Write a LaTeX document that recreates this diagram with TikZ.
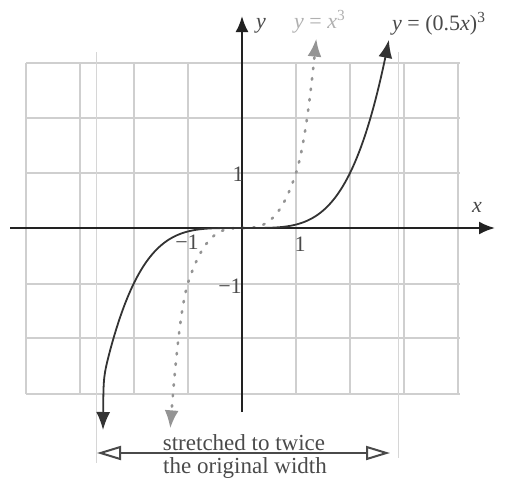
\documentclass[tikz,border=0pt]{standalone}
\usepackage{fontspec}
\setmainfont{Liberation Serif}
\usetikzlibrary{arrows.meta}
\definecolor{axiscol}{HTML}{222222}
\definecolor{curvecol}{HTML}{333333}
\definecolor{gridcol}{HTML}{CFCFCF}
\definecolor{stretchcol}{HTML}{D6D6D6}
\definecolor{dotcol}{HTML}{949494}
\definecolor{lightlab}{HTML}{B0B0B0}
\definecolor{textcol}{HTML}{4A4A4A}
\tikzset{
  gridline/.style={draw=gridcol, line width=1.2pt},
  stretchline/.style={draw=stretchcol, line width=1pt},
  axisline/.style={draw=axiscol, line width=2.2pt, -{Latex[length=16pt,width=13pt]}},
  blackcurve/.style={draw=curvecol, line width=1.8pt, {Latex[length=18pt,width=14pt]}-{Latex[length=18pt,width=14pt]}},
  dotcurve/.style={draw=dotcol, line width=2.6pt, line cap=round, dash pattern=on 1.5pt off 9pt, {Latex[length=18pt,width=14pt]}-{Latex[length=18pt,width=14pt]}},
  widtharrow/.style={draw=textcol, line width=2pt, {Triangle[open,length=24pt,width=14pt]}-{Triangle[open,length=24pt,width=14pt]}},
  lab/.style={font=\fontsize{22}{22}\selectfont, inner sep=0pt, text=textcol},
  bigtext/.style={font=\fontsize{23}{23}\selectfont, inner sep=0pt, text=textcol, anchor=base},
}
\begin{document}
\begin{tikzpicture}[x=1pt,y=-1pt]
\useasboundingbox (0,0) rectangle (508,477);
% grid
\foreach \gx in {26,80,134,188,296,350,404,458} {\draw[gridline] (\gx,63) -- (\gx,394);}
\foreach \gy in {63,118,173,284,338,394} {\draw[gridline] (26,\gy) -- (460,\gy);}
% stretch markers
\coordinate (sLtop) at (96,52);
\coordinate (sLbot) at (96,463);
\coordinate (sRtop) at (398,52);
\coordinate (sRbot) at (398,458);
\draw[stretchline] (sLtop) -- (sLbot);
\draw[stretchline] (sRtop) -- (sRbot);
% axes
\coordinate (xs) at (10,228);
\coordinate (xe) at (495,228);
\coordinate (ys) at (242,412);
\coordinate (ye) at (242,16);
\draw[axisline] (xs) -- (xe);
\draw[axisline] (ys) -- (ye);
% dotted y = x^3
\draw[dotcurve] plot[domain=1.375:-1.33, samples=120, variable=\u]
  ({242+54*\u},{228-55*(\u*\u*\u + (\u>1)*6*(\u-1)*(\u-1) - (\u<-1)*12*(\u+1)*(\u+1))});
% black y = (0.5x)^3
\draw[blackcurve] plot[domain=2.72:-2.44, samples=140, variable=\u]
  ({242+54*\u},{228-55*0.0625*\u*\u*\u*abs(\u)})
  .. controls (103.5,376) .. (103,430);
% labels
\node[lab, anchor=base west] (ylab) at (256,28) {\textit{y}};
\node[lab, anchor=base west, text=lightlab] (cubelab) at (294,28) {\textit{y} = \textit{x}\textsuperscript{3}};
\node[lab, anchor=base west] (halflab) at (392,30) {\textit{y} = (0.5\textit{x})\textsuperscript{3}};
\node[lab] (xlab) at (477,207) {\textit{x}};
\node[lab] (xone) at (300,244) {1};
\node[lab] (xmone) at (187,242) {−1};
\node[lab] (yone) at (238,174) {1};
\node[lab] (ymone) at (230,286) {−1};
% width arrow
\coordinate (wl) at (97,453);
\coordinate (wr) at (390,453);
\draw[widtharrow] (wl) -- (wr);
\node[bigtext] (t1) at (244,450) {stretched to twice};
\node[bigtext] (t2) at (245,473) {the original width};
\end{tikzpicture}
\end{document}
